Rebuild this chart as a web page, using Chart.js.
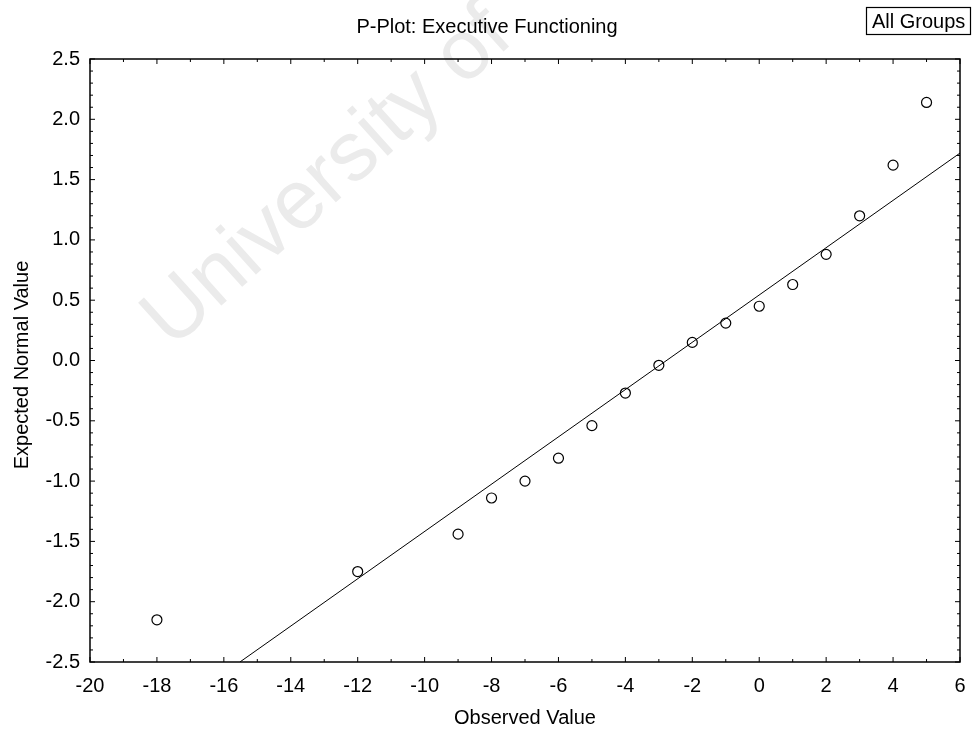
<!DOCTYPE html>
<html>
<head>
<meta charset="utf-8">
<script src="https://cdn.jsdelivr.net/npm/chart.js@4"></script>
<style>
  html, body { margin: 0; padding: 0; background: #fff; }
  #wrap { width: 972px; height: 736px; }
</style>
</head>
<body>
<div id="wrap"><canvas id="pplot" width="972" height="736"></canvas></div>
<script>
// observed values and their expected normal values
const observed = [-18, -12, -9, -8, -7, -6, -5, -4, -3, -2, -1, 0, 1, 2, 3, 4, 5];
const expected = [-2.15, -1.75, -1.44, -1.14, -1.0, -0.81, -0.54, -0.27, -0.04, 0.15, 0.31, 0.45, 0.63, 0.88, 1.20, 1.62, 2.14];

// end points of the fitted line
const lineX = [-15.52, 6];
const lineY = [-2.5, 1.72];

const xTicks = [-20, -18, -16, -14, -12, -10, -8, -6, -4, -2, 0, 2, 4, 6];
const yTicks = [-2.5, -2.0, -1.5, -1.0, -0.5, 0.0, 0.5, 1.0, 1.5, 2.0, 2.5];

const FONT = '"Liberation Sans", Arial, sans-serif';

// tick marks on all four sides, drawn inward, plus titles and the label box
const framePlugin = {
    id: 'frame',
    beforeDraw(chart) {
        const ctx = chart.ctx;
        ctx.save();
        ctx.fillStyle = '#fff';
        ctx.fillRect(0, 0, chart.width, chart.height);
        // faint watermark
        ctx.translate(172, 350);
        ctx.rotate(-42 * Math.PI / 180);
        ctx.fillStyle = '#ebebeb';
        ctx.font = '84px ' + FONT;
        ctx.textAlign = 'left';
        ctx.textBaseline = 'alphabetic';
        ctx.fillText('University of', 0, 0);
        ctx.restore();
    },
    afterDraw(chart) {
        const ctx = chart.ctx;
        const xs = chart.scales.x, ys = chart.scales.y;
        const a = chart.chartArea;
        ctx.save();
        ctx.strokeStyle = '#000';
        ctx.lineWidth = 1.5;
        ctx.strokeRect(a.left, a.top, a.right - a.left, a.bottom - a.top);

        ctx.lineWidth = 1;
        ctx.beginPath();
        for (let v = -20; v <= 6; v += 1) {
            const px = xs.getPixelForValue(v);
            const len = v % 2 === 0 ? 5 : 3;
            ctx.moveTo(px, a.bottom); ctx.lineTo(px, a.bottom - len);
            ctx.moveTo(px, a.top); ctx.lineTo(px, a.top + len);
        }
        for (let i = -25; i <= 25; i++) {
            const py = ys.getPixelForValue(i / 10);
            const len = i % 5 === 0 ? 5 : 3;
            ctx.moveTo(a.left, py); ctx.lineTo(a.left + len, py);
            ctx.moveTo(a.right, py); ctx.lineTo(a.right - len, py);
        }
        ctx.stroke();

        ctx.fillStyle = '#000';
        ctx.textAlign = 'center';
        ctx.textBaseline = 'middle';
        ctx.font = '20px ' + FONT;
        ctx.fillText('P-Plot: Executive Functioning', 487, 27);
        ctx.fillText('Observed Value', 525, 718);

        ctx.save();
        ctx.translate(22, 365);
        ctx.rotate(-Math.PI / 2);
        ctx.fillText('Expected Normal Value', 0, 0);
        ctx.restore();

        ctx.lineWidth = 1.2;
        ctx.strokeRect(866.5, 7.5, 104, 27);
        ctx.textAlign = 'left';
        ctx.fillText('All Groups', 872, 22);
        ctx.restore();
    }
};

new Chart(document.getElementById('pplot'), {
    type: 'scatter',
    data: {
        datasets: [
            {
                label: 'fit',
                type: 'line',
                data: lineX.map((x, i) => ({ x: x, y: lineY[i] })),
                borderColor: '#000',
                borderWidth: 1,
                pointRadius: 0,
                fill: false,
                tension: 0
            },
            {
                label: 'cases',
                data: observed.map((x, i) => ({ x: x, y: expected[i] })),
                pointStyle: 'circle',
                pointRadius: 5,
                pointBorderWidth: 1.2,
                borderColor: '#000',
                backgroundColor: 'rgba(255,255,255,0)'
            }
        ]
    },
    options: {
        responsive: false,
        animation: false,
        layout: { padding: { top: 59, right: 12, left: 0, bottom: 0 } },
        plugins: {
            legend: { display: false },
            tooltip: { enabled: false },
            title: { display: false }
        },
        scales: {
            x: {
                type: 'linear',
                min: -20,
                max: 6,
                afterBuildTicks: s => { s.ticks = xTicks.map(v => ({ value: v })); },
                afterFit: s => { s.height = 74; s.paddingLeft = 0; s.paddingRight = 0; },
                grid: { display: false, drawTicks: false },
                border: { display: false },
                ticks: {
                    color: '#000',
                    font: { family: FONT, size: 20 },
                    padding: 12,
                    maxRotation: 0,
                    callback: v => String(v)
                }
            },
            y: {
                type: 'linear',
                min: -2.5,
                max: 2.5,
                afterBuildTicks: s => { s.ticks = yTicks.map(v => ({ value: v })); },
                afterFit: s => { s.width = 90; s.paddingTop = 0; s.paddingBottom = 0; },
                grid: { display: false, drawTicks: false },
                border: { display: false },
                ticks: {
                    color: '#000',
                    font: { family: FONT, size: 20 },
                    padding: 10,
                    callback: v => Number(v).toFixed(1)
                }
            }
        }
    },
    plugins: [framePlugin]
});
</script>
</body>
</html>
